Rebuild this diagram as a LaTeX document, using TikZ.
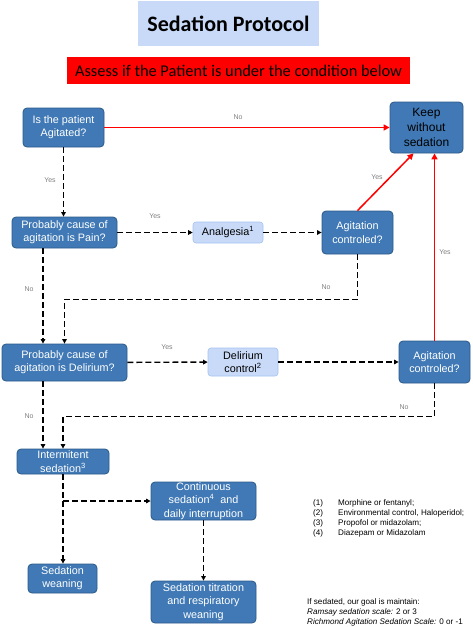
\documentclass[tikz,border=0pt]{standalone}
\usepackage{fontspec}
\setmainfont{Liberation Sans}
\newfontfamily\calibfont{Carlito}
\usetikzlibrary{arrows.meta}
\definecolor{boxblue}{HTML}{4079B5}
\definecolor{boxedge}{HTML}{2B5A88}
\definecolor{lightfill}{HTML}{C9DAF8}
\definecolor{lightedge}{HTML}{A4C2F0}
\definecolor{labgray}{HTML}{808080}
\begin{document}
\begin{tikzpicture}[x=1pt,y=-1pt,
  dark/.style={rectangle,rounded corners=4pt,draw=boxedge,line width=0.8pt,fill=boxblue,text=white,align=center,inner sep=0pt,font=\fontsize{10.8}{13.3}\selectfont},
  light/.style={rectangle,rounded corners=3pt,draw=lightedge,line width=0.6pt,fill=lightfill,align=center,inner sep=0pt,font=\fontsize{10.8}{13.3}\selectfont},
  yn/.style={text=labgray,inner sep=0pt,font=\fontsize{7}{8}\selectfont},
  flow/.style={draw,line width=1.4pt,dash pattern=on 6pt off 3pt,-{Triangle[length=4.5pt,width=4.5pt]}},
  redline/.style={draw=red,line width=1.5pt,-{Triangle[length=6pt,width=6pt]}}]
\useasboundingbox (0,0) rectangle (472,627);
\node[fill=lightfill,minimum width=181pt,minimum height=45pt,font=\calibfont\bfseries\fontsize{22}{26}\selectfont] (title) at (228.5,23.5) {Sedation Protocol};
\node[fill=red,minimum width=343pt,minimum height=27pt,font=\calibfont\fontsize{16.4}{19}\selectfont] (assess) at (238.5,70.5) {Assess if the Patient is under the condition below};

\node[dark,minimum width=81pt,minimum height=39pt] (agit) at (63.5,127.5) {Is the patient\\Agitated?};
\node[dark,text=black,minimum width=73pt,minimum height=51pt,font=\fontsize{12}{15}\selectfont] (keep) at (426.5,127.5) {Keep\\without\\sedation};
\node[dark,minimum width=105pt,minimum height=31pt] (pain) at (64.5,232.5) {Probably cause of\\agitation is Pain?};
\node[light,minimum width=70pt,minimum height=21pt] (analg) at (228,232.5) {Analgesia\textsuperscript{1}};
\node[dark,minimum width=71pt,minimum height=43pt] (ctrlA) at (357.5,232.5) {Agitation\\controled?};
\node[dark,minimum width=125pt,minimum height=37pt] (delir) at (64.5,362.5) {Probably cause of\\agitation is Delirium?};
\node[light,minimum width=70pt,minimum height=28pt] (delctl) at (243,362) {Delirium\\control\textsuperscript{2}};
\node[dark,minimum width=71pt,minimum height=42pt] (ctrlB) at (434.5,362) {Agitation\\controled?};
\node[dark,minimum width=92pt,minimum height=25pt] (interm) at (63,461.5) {Intermitent\\sedation\textsuperscript{3}};
\node[dark,minimum width=105pt,minimum height=38pt] (cont) at (203.5,501) {Continuous\\sedation\textsuperscript{4}~ and\\daily interruption};
\node[dark,minimum width=69pt,minimum height=29pt] (wean) at (62.5,578.5) {Sedation\\weaning};
\node[dark,minimum width=105pt,minimum height=42pt] (titr) at (203.5,602) {Sedation titration\\and respiratory\\weaning};
\coordinate (br) at (interm.south |- cont.west);

\draw[redline] (agit) -- (keep);
\draw[redline] (ctrlA.north) -- ([xshift=-13pt]keep.south);
\draw[redline] (ctrlB.north) -- (ctrlB.north |- keep.south);
\draw[flow] (agit.south) -- (agit.south |- pain.north);
\draw[flow] (pain) -- (analg);
\draw[flow] (analg) -- (ctrlA);
\draw[flow] ([xshift=-21.5pt]pain.south) -- ([xshift=-21.5pt]delir.north);
\draw[flow] (ctrlA.south) -- ++(0,45) -| (delir.north);
\draw[flow] (delir) -- (delctl);
\draw[flow] (delctl) -- (ctrlB);
\draw[flow] ([xshift=-21.5pt]delir.south) -- ([xshift=-21.5pt]delir.south |- interm.north);
\draw[flow] (ctrlB.south) -- ++(0,33) -| (interm.north);
\draw[flow] (interm.south) -- (interm.south |- wean.north);
\draw[flow] (br) -- (cont.west);
\draw[flow] (cont.south) -- (titr.north);

\node[yn] (l1) at (238,117) {No};
\node[yn] (l2) at (50,180) {Yes};
\node[yn] (l3) at (155,216) {Yes};
\node[yn] (l4) at (377,177) {Yes};
\node[yn] (l5) at (445,252) {Yes};
\node[yn] (l6) at (29,289) {No};
\node[yn] (l7) at (326,287) {No};
\node[yn] (l8) at (167,347) {Yes};
\node[yn] (l9) at (29,416) {No};
\node[yn] (l10) at (404,407) {No};

\node[anchor=north west,inner sep=0pt,align=left,font=\fontsize{8.1}{10}\selectfont] (notes) at (313,499) {\makebox[25pt][l]{(1)}Morphine or fentanyl;\\\makebox[25pt][l]{(2)}Environmental control, Haloperidol;\\\makebox[25pt][l]{(3)}Propofol or midazolam;\\\makebox[25pt][l]{(4)}Diazepam or Midazolam};
\node[anchor=north west,inner sep=0pt,align=left,font=\fontsize{8.1}{10}\selectfont] (goal) at (307,598) {If sedated, our goal is maintain:\\\textit{Ramsay sedation scale:} 2 or 3\\\textit{Richmond Agitation Sedation Scale:} 0 or -1};
\end{tikzpicture}
\end{document}
